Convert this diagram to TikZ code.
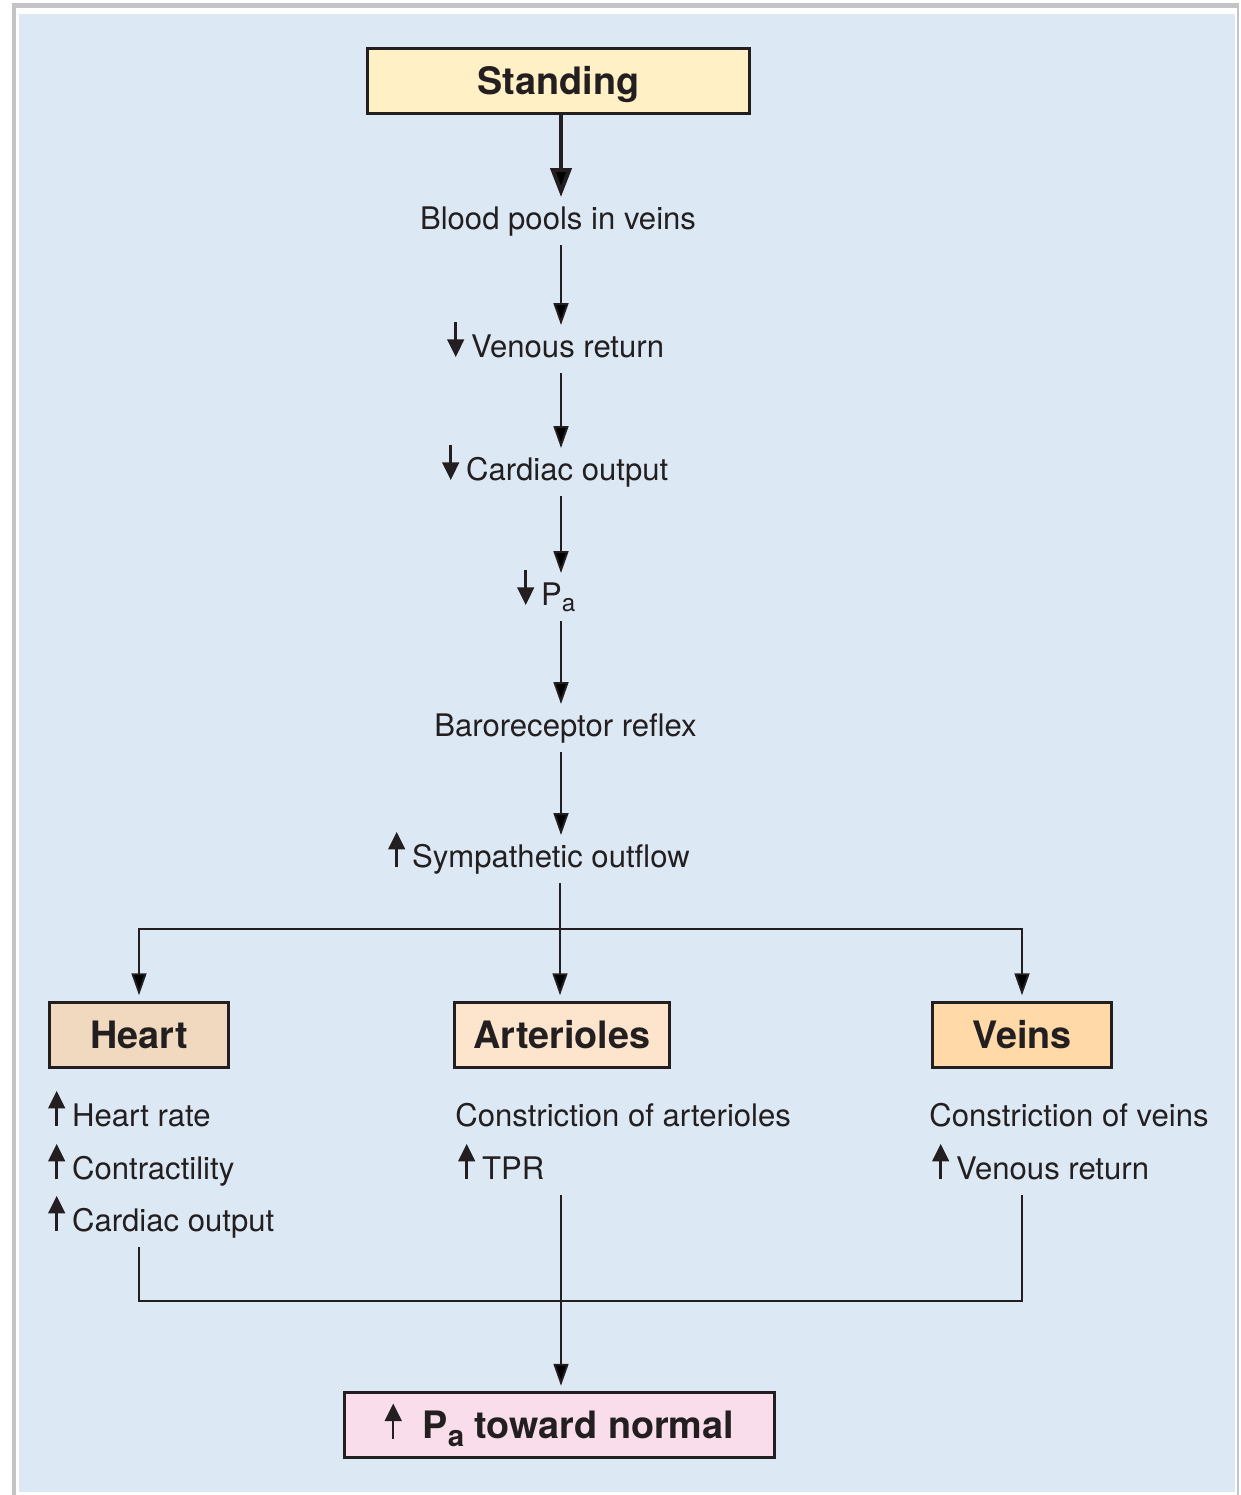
\documentclass[tikz,border=0pt]{standalone}
\usepackage{fontspec}
\setmainfont{TeX Gyre Heros}
\usepackage{xcolor}
\usepackage{tikz}
\usetikzlibrary{arrows.meta,positioning,calc}
\definecolor{PanelBlue}{RGB}{220,233,245}
\definecolor{FrameGrey}{RGB}{196,196,198}
\definecolor{Ink}{RGB}{35,31,32}
\definecolor{StandFill}{RGB}{255,240,198}
\definecolor{HeartFill}{RGB}{240,217,190}
\definecolor{ArtFill}{RGB}{253,228,205}
\definecolor{VeinFill}{RGB}{255,218,168}
\definecolor{NormFill}{RGB}{249,221,235}
\newcommand{\upar}{\tikz[baseline=0pt]\draw[Ink,line width=1.4pt,-{Triangle[length=10pt,width=9.5pt]}] (0pt,0pt) -- (0pt,20pt);\hspace{4pt}}
\newcommand{\dnar}{\tikz[baseline=0pt]\draw[Ink,line width=1.4pt,-{Triangle[length=10pt,width=9.5pt]}] (0pt,20pt) -- (0pt,0pt);\hspace{4pt}}
\newcommand{\lowsub}[1]{\raisebox{-0.22em}{\scalebox{0.78}{#1}}}

\begin{document}
\begin{tikzpicture}[x=0.02cm, y=-0.02cm,
    box/.style={draw=Ink, line width=1.7pt, text=Ink, inner sep=0pt, minimum height=1.3cm, text height=15.5pt, text depth=0pt, font=\fontsize{21.5}{25}\selectfont\bfseries},
    txt/.style={text=Ink, inner xsep=0pt, inner ysep=5pt, text height=13pt, text depth=4pt, font=\fontsize{17.7}{21}\selectfont},
    arrow/.style={-{Triangle[length=12.5pt,width=8.5pt]}, line width=1.1pt, draw=Ink, shorten >=3pt},
    bigarrow/.style={-{Triangle[length=16.5pt,width=12pt]}, line width=2.3pt, draw=Ink},
    link/.style={line width=1.1pt, draw=Ink}
  ]
    \useasboundingbox (0,0) rectangle (1241,1495);
    % panel
    \fill[white] (0,0) rectangle (1241,1495);
    \fill[FrameGrey] (12,3) rectangle (1239,1495);
    \fill[white] (16,8) rectangle (1237,1495);
    \fill[PanelBlue] (19,14) rectangle (1235,1492);

    % main chain
    \node[box, fill=StandFill, minimum width=7.64cm] (stand) at (558.5,81) {Standing};
    \node[txt, anchor=base] (blood) at (558,229) {Blood pools in veins};
    \node[txt, anchor=base west] (venous) at (447,357) {\dnar Venous return};
    \node[txt, anchor=base west] (cardiac) at (442,480) {\dnar Cardiac output};
    \node[txt, anchor=base west] (pa) at (517,605) {\dnar P\lowsub{a}};
    \node[txt, anchor=base west] (baro) at (434,736) {Baroreceptor reflex};
    \node[txt, anchor=base west] (symp) at (388,867) {\upar Sympathetic outflow};
    \coordinate (axis) at (561,0);

    % effectors
    \node[box, fill=HeartFill, minimum width=3.6cm] (heart) at (139,1034.5) {Heart};
    \node[box, fill=ArtFill, minimum width=4.3cm] (arter) at (562,1034.5) {Arterioles};
    \node[box, fill=VeinFill, minimum width=3.58cm] (veins) at (1022,1034.5) {Veins};

    \node[txt, anchor=base west] (hr) at (48,1126) {\upar Heart rate};
    \node[txt, anchor=base west] (contr) at (48,1179) {\upar Contractility};
    \node[txt, anchor=base west] (co) at (48,1231) {\upar Cardiac output};
    \node[txt, anchor=base west] (artcon) at (455,1126) {Constriction of arterioles};
    \node[txt, anchor=base west] (tpr) at (458,1179) {\upar TPR};
    \node[txt, anchor=base west] (veincon) at (929,1126) {Constriction of veins};
    \node[txt, anchor=base west] (vr) at (932,1179) {\upar Venous return};

    \node[box, fill=NormFill, minimum width=8.6cm] (normal) at (559.5,1425) {\upar\hspace{8pt}P\lowsub{a} toward normal};

    % connectors
    \draw[bigarrow] (stand.south -| axis) -- (blood.north -| axis);
    \draw[arrow, shorten >=0pt] (blood.south -| axis) -- (venous.north -| axis);
    \draw[arrow, shorten >=0pt] (venous.south -| axis) -- (cardiac.north -| axis);
    \draw[arrow, shorten >=0pt] (cardiac.south -| axis) -- (pa.north -| axis);
    \draw[arrow, shorten >=0pt] (pa.south -| axis) -- (baro.north -| axis);
    \draw[arrow, shorten >=0pt] (baro.south -| axis) -- (symp.north -| axis);

    \coordinate (split) at (560,929);
    \draw[link] (symp.south -| split) -- (split);
    \draw[arrow] (split) -| (heart);
    \draw[arrow] (split) -| (veins);
    \draw[arrow] (split) -- (split |- arter.north);

    \coordinate (merge) at (561,1301);
    \draw[link] (co.south -| heart) |- (merge) -| (vr.south -| veins);
    \draw[arrow] (tpr.south -| merge) -- (normal.north -| merge);
  \end{tikzpicture}
\end{document}
